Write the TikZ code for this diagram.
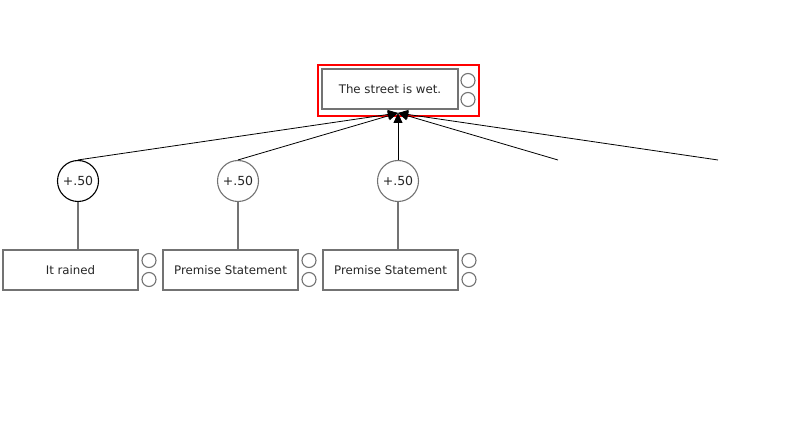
\documentclass[tikz,border=0pt]{standalone}
\usepackage{fontspec}
\setmainfont{DejaVu Sans}
\usetikzlibrary{arrows.meta}
\begin{document}
\begin{tikzpicture}[x=1pt,y=-1pt,
  stmt/.style={draw=black!55,line width=1.2pt,minimum width=135pt,minimum height=40pt,inner sep=0pt,font=\fontsize{11.8}{13}\selectfont,text=black!85},
  port/.style={circle,draw=black!55,line width=1.1pt,minimum size=14pt,inner sep=0pt},
  wt/.style={circle,draw=black!55,line width=1.1pt,minimum size=41pt,inner sep=0pt,font=\fontsize{12.5}{14}\selectfont,text=black!85},
  link/.style={draw=black,line width=0.8pt,-{Triangle[length=10pt,width=9pt]}},
  stem/.style={draw=black!55,line width=1.1pt}]
\useasboundingbox (0,0) rectangle (795,427);
% top claim
\node[draw=red,line width=1.8pt,minimum width=161pt,minimum height=51pt,inner sep=0pt] (sel) at (398.5,90.5) {};
\node[stmt,minimum width=136pt] (claim) at (390,89) {The street is wet.};
\node[port] (cp1) at (468,80.5) {};
\node[port] (cp2) at (468,99.5) {};
\coordinate (tgt) at (398,113);
% weights
\node[wt,draw=black] (w1) at (78,181) {+.50};
\node[wt] (w2) at (238,181) {+.50};
\node[wt] (w3) at (398,181) {+.50};
\coordinate (f4) at (558,160);
\coordinate (f5) at (718,160);
% premises
\node[stmt] (p1) at (70.5,270) {It rained};
\node[stmt] (p2) at (230.5,270) {Premise Statement};
\node[stmt] (p3) at (390.5,270) {Premise Statement};
\node[port] (a1) at (149,260.5) {};
\node[port] (b1) at (149,279.5) {};
\node[port] (a2) at (309,260.5) {};
\node[port] (b2) at (309,279.5) {};
\node[port] (a3) at (469,260.5) {};
\node[port] (b3) at (469,279.5) {};
% stems
\draw[stem] (w1.south) -- (p1.north -| w1.south);
\draw[stem] (w2.south) -- (p2.north -| w2.south);
\draw[stem] (w3.south) -- (p3.north -| w3.south);
% links
\draw[link] (w1.north) -- (tgt);
\draw[link] (w2.north) -- (tgt);
\draw[link] (w3.north) -- (tgt);
\draw[link] (f4) -- (tgt);
\draw[link] (f5) -- (tgt);
\end{tikzpicture}
\end{document}
